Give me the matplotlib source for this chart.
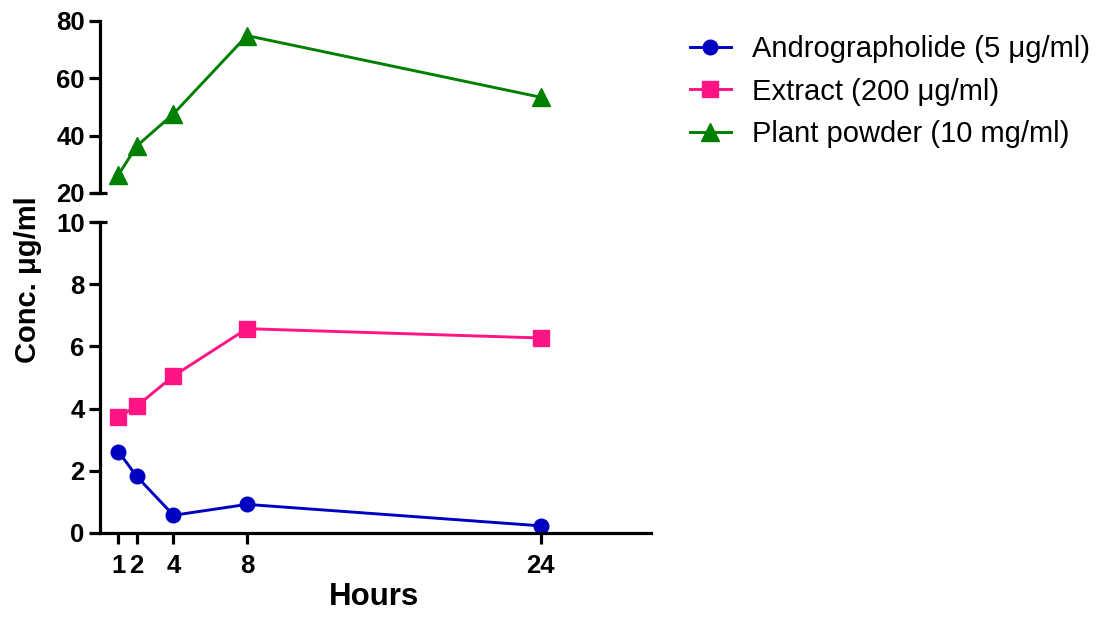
import matplotlib.pyplot as plt

hours = [1, 2, 4, 8, 24]
andro = [2.62, 1.82, 0.57, 0.92, 0.23]
extract = [3.73, 4.08, 5.05, 6.57, 6.27]
powder = [26.3, 36.4, 47.6, 74.9, 53.4]
labels = ['Andrographolide (5 \u03bcg/ml)', 'Extract (200 \u03bcg/ml)', 'Plant powder (10 mg/ml)']

plt.rcParams['font.family'] = ['Liberation Sans', 'DejaVu Sans']

fig = plt.figure(figsize=(11.06, 6.25), dpi=100)
ax_top = fig.add_axes([100/1106, 1-193/625, 551/1106, 172/625])
ax_bot = fig.add_axes([100/1106, 1-533/625, 551/1106, 311/625])

lw = 2.1
c_blue, c_pink, c_green = '#0000c0', '#ff1483', '#008000'
l1, = ax_bot.plot(hours, andro, '-o', color=c_blue, lw=lw, ms=10.5, clip_on=False)
l2, = ax_bot.plot(hours, extract, '-s', color=c_pink, lw=lw, ms=11.5, clip_on=False)
l3, = ax_top.plot(hours, powder, '-^', color=c_green, lw=lw, ms=12.5, clip_on=False)

ax_top.set_ylim(20, 80)
ax_top.set_yticks([20, 40, 60, 80])
ax_top.set_xticks([])

ax_bot.set_ylim(0, 10)
ax_bot.set_yticks([0, 2, 4, 6, 8, 10])
ax_bot.set_xticks(hours)
ax_bot.set_xticklabels([str(h) for h in hours])

for ax in (ax_top, ax_bot):
    ax.set_xlim(0, 30)
    ax.spines['top'].set_visible(False)
    ax.spines['right'].set_visible(False)
    ax.spines['left'].set_linewidth(2.3)
    ax.spines['bottom'].set_linewidth(2.3)
    ax.tick_params(axis='y', width=2.3, length=8, labelsize=18.5, pad=3)
    ax.tick_params(axis='x', width=2.3, length=8, labelsize=18.5, pad=7)
    for t in ax.get_yticklabels() + ax.get_xticklabels():
        t.set_fontweight('bold')
ax_top.spines['bottom'].set_visible(False)

# break stubs
ax_top.plot([-0.012, 0.012], [0, 0], transform=ax_top.transAxes, color='black', lw=2.3, clip_on=False, solid_capstyle='butt')
ax_bot.plot([-0.012, 0.012], [1, 1], transform=ax_bot.transAxes, color='black', lw=2.3, clip_on=False, solid_capstyle='butt')

fig.text(28/1106, 1-280/625, 'Conc. \u03bcg/ml', rotation=90, ha='center', va='center', fontsize=21,
         fontweight='bold')
fig.text(374/1106, 1-605/625, 'Hours', ha='center', va='baseline', fontsize=22.5, fontweight='bold')

fig.legend([l1, l2, l3], labels, loc='upper left', bbox_to_anchor=(690/1106, 1-35/625), frameon=False,
           fontsize=21, handlelength=1.4, handletextpad=0.72, labelspacing=0.5, borderaxespad=0, borderpad=0)

fig.savefig('out.png', dpi=100)
